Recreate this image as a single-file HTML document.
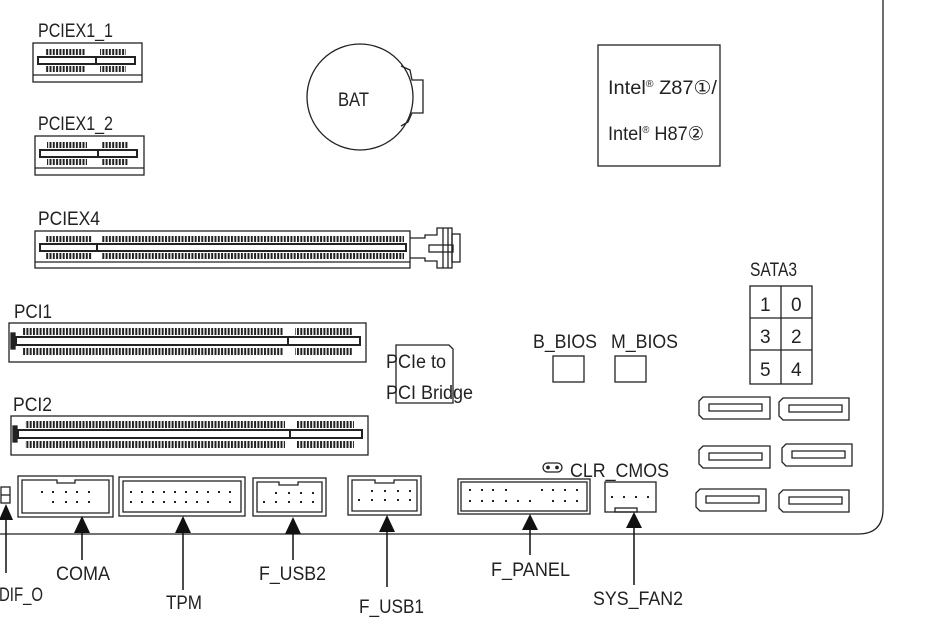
<!DOCTYPE html>
<html><head><meta charset="utf-8"><style>
html,body{margin:0;padding:0;background:#fff;}
svg{display:block;font-family:"Liberation Sans",sans-serif;}
text{fill:#222;font-size:19px;}
</style></head><body>
<svg width="931" height="628" viewBox="0 0 931 628" xmlns="http://www.w3.org/2000/svg">
<defs>
<pattern id="t" x="0" y="0" width="3.3" height="20" patternUnits="userSpaceOnUse"><rect x="0" y="0" width="2" height="20" fill="#222"/></pattern>
</defs>
<g fill="none" stroke="#222" stroke-width="1.3">
<path d="M0 534 H858 Q883 534 883 509 V0"/>
<rect x="33" y="43" width="109" height="39" fill="#fff"/>
<line x1="33" y1="75" x2="142" y2="75"/>
<rect x="38" y="57" width="97" height="7" stroke-width="2"/>
<line x1="96" y1="57" x2="96" y2="64" stroke-width="2"/>
<rect x="35" y="136" width="109" height="39"/>
<line x1="35" y1="168" x2="144" y2="168"/>
<rect x="40" y="150" width="97" height="7" stroke-width="2"/>
<line x1="98" y1="150" x2="98" y2="157" stroke-width="2"/>
<rect x="35" y="231" width="375" height="37"/>
<line x1="35" y1="262" x2="410" y2="262"/>
<rect x="40" y="244" width="366" height="7" stroke-width="2"/>
<line x1="97" y1="244" x2="97" y2="251" stroke-width="2"/>
<path d="M410 238 H425 V235 H437 V228 H452 V268 H437 V261 H425 V258 H410"/>
<rect x="429" y="245" width="24" height="7"/>
<line x1="443" y1="228" x2="443" y2="268"/><line x1="448" y1="228" x2="448" y2="268"/>
<rect x="452" y="234" width="8" height="28"/>
<circle cx="360" cy="97" r="53"/>
<path d="M401 66 L410 70 L412 80 H423 V113 H412 L408 122 L401 126"/>
<rect x="598" y="45" width="122" height="121"/>
<rect x="9" y="323" width="357" height="39"/>
<rect x="16" y="337" width="344" height="8" stroke-width="2"/>
<line x1="288" y1="337" x2="288" y2="345" stroke-width="2"/>
<rect x="11" y="333" width="4" height="16" fill="#222"/>
<rect x="11" y="416" width="357" height="39"/>
<rect x="18" y="430" width="344" height="8" stroke-width="2"/>
<line x1="290" y1="430" x2="290" y2="438" stroke-width="2"/>
<rect x="13" y="426" width="4" height="16" fill="#222"/>
<path d="M396 345 H449 L453 349 V403 H396Z"/>
<rect x="553" y="356" width="31" height="26"/>
<rect x="615" y="356" width="31" height="26"/>
<rect x="750" y="286" width="62" height="98"/>
<line x1="781" y1="286" x2="781" y2="384"/>
<line x1="750" y1="318" x2="812" y2="318"/>
<line x1="750" y1="350" x2="812" y2="350"/>
<rect x="18" y="476" width="95" height="41"/><path d="M22 480 H57 V483 H75 V480 H109 V513 H22Z"/>
<rect x="119" y="477" width="126" height="39"/><rect x="123" y="481" width="118" height="31"/>
<rect x="253" y="478" width="73" height="38"/><path d="M257 482 H279 V485 H298 V482 H322 V512 H257Z"/>
<rect x="348" y="476" width="73" height="39"/><path d="M352 480 H375 V483 H394 V480 H417 V511 H352Z"/>
<rect x="458" y="479" width="132" height="35"/><rect x="461" y="482" width="126" height="29"/>
<rect x="605" y="482" width="51" height="30"/><rect x="615" y="508" width="22" height="4"/>
<rect x="1" y="487" width="9" height="16"/><line x1="1" y1="495" x2="10" y2="495"/>
<rect x="543" y="463" width="19" height="9" rx="4.5"/>
<circle cx="548" cy="467.5" r="1.2" fill="#222"/><circle cx="557" cy="467.5" r="1.2" fill="#222"/>
</g>
<g fill="url(#t)">
<rect x="45" y="49" width="40" height="6"/><rect x="100" y="49" width="26" height="6"/>
<rect x="45" y="66" width="40" height="6"/><rect x="100" y="66" width="26" height="6"/>
<rect x="47" y="142" width="40" height="6"/><rect x="102" y="142" width="26" height="6"/>
<rect x="47" y="159" width="40" height="6"/><rect x="102" y="159" width="26" height="6"/>
<rect x="46" y="236" width="46" height="6"/><rect x="102" y="236" width="302" height="6"/>
<rect x="46" y="253" width="46" height="6"/><rect x="102" y="253" width="302" height="6"/>
<rect x="23" y="328" width="260" height="7"/><rect x="295" y="328" width="57" height="7"/>
<rect x="23" y="348" width="260" height="7"/><rect x="295" y="348" width="57" height="7"/>
<rect x="25" y="421" width="260" height="7"/><rect x="297" y="421" width="57" height="7"/>
<rect x="25" y="441" width="260" height="7"/><rect x="297" y="441" width="57" height="7"/>
</g>
<g fill="none" stroke="#222" stroke-width="1.3">
<path d="M703 397 H770 V419 H703 L699 415 V401Z"/><path d="M709 404 H762 V411 H709Z"/>
<path d="M783 398 H849 V420 H783 L779 416 V402Z"/><path d="M789 405 H842 V412 H789Z"/>
<path d="M703 446 H770 V468 H703 L699 464 V450Z"/><path d="M709 453 H762 V460 H709Z"/>
<path d="M786 444 H852 V466 H786 L782 462 V448Z"/><path d="M792 451 H845 V458 H792Z"/>
<path d="M700 489 H766 V511 H700 L696 507 V493Z"/><path d="M706 496 H759 V503 H706Z"/>
<path d="M783 490 H849 V512 H783 L779 508 V494Z"/><path d="M789 497 H842 V504 H789Z"/>
</g>
<g fill="#222">
<rect x="41" y="491" width="2" height="2"/><rect x="52" y="491" width="2" height="2"/><rect x="65" y="491" width="2" height="2"/><rect x="76" y="491" width="2" height="2"/><rect x="88" y="491" width="2" height="2"/>
<rect x="52" y="501" width="2" height="2"/><rect x="65" y="501" width="2" height="2"/><rect x="76" y="501" width="2" height="2"/><rect x="88" y="501" width="2" height="2"/>
<rect x="130" y="491" width="2" height="2"/><rect x="141" y="491" width="2" height="2"/><rect x="152" y="491" width="2" height="2"/><rect x="163" y="491" width="2" height="2"/><rect x="174" y="491" width="2" height="2"/><rect x="185" y="491" width="2" height="2"/><rect x="196" y="491" width="2" height="2"/><rect x="207" y="491" width="2" height="2"/><rect x="218" y="491" width="2" height="2"/><rect x="229" y="491" width="2" height="2"/>
<rect x="130" y="501" width="2" height="2"/><rect x="141" y="501" width="2" height="2"/><rect x="152" y="501" width="2" height="2"/><rect x="163" y="501" width="2" height="2"/><rect x="174" y="501" width="2" height="2"/><rect x="185" y="501" width="2" height="2"/><rect x="196" y="501" width="2" height="2"/><rect x="207" y="501" width="2" height="2"/><rect x="229" y="501" width="2" height="2"/>
<rect x="275" y="492" width="2" height="2"/><rect x="288" y="492" width="2" height="2"/><rect x="300" y="492" width="2" height="2"/><rect x="312" y="492" width="2" height="2"/>
<rect x="263" y="501" width="2" height="2"/><rect x="275" y="501" width="2" height="2"/><rect x="288" y="501" width="2" height="2"/><rect x="300" y="501" width="2" height="2"/><rect x="312" y="501" width="2" height="2"/>
<rect x="371" y="490" width="2" height="2"/><rect x="384" y="490" width="2" height="2"/><rect x="397" y="490" width="2" height="2"/><rect x="409" y="490" width="2" height="2"/>
<rect x="358" y="499" width="2" height="2"/><rect x="371" y="499" width="2" height="2"/><rect x="384" y="499" width="2" height="2"/><rect x="397" y="499" width="2" height="2"/><rect x="409" y="499" width="2" height="2"/>
<rect x="469" y="489" width="2" height="2"/><rect x="481" y="489" width="2" height="2"/><rect x="492" y="489" width="2" height="2"/><rect x="505" y="489" width="2" height="2"/><rect x="541" y="489" width="2" height="2"/><rect x="552" y="489" width="2" height="2"/><rect x="564" y="489" width="2" height="2"/><rect x="576" y="489" width="2" height="2"/>
<rect x="469" y="500" width="2" height="2"/><rect x="481" y="500" width="2" height="2"/><rect x="492" y="500" width="2" height="2"/><rect x="505" y="500" width="2" height="2"/><rect x="517" y="500" width="2" height="2"/><rect x="529" y="500" width="2" height="2"/><rect x="552" y="500" width="2" height="2"/><rect x="564" y="500" width="2" height="2"/><rect x="576" y="500" width="2" height="2"/>
<rect x="611" y="496" width="2" height="2"/><rect x="623" y="496" width="2" height="2"/><rect x="635" y="496" width="2" height="2"/><rect x="647" y="496" width="2" height="2"/>
</g>
<g stroke="#111" stroke-width="1.5">
<line x1="6" y1="573" x2="6" y2="515"/>
<line x1="82" y1="560" x2="82" y2="530"/>
<line x1="183" y1="590" x2="183" y2="530"/>
<line x1="293" y1="560" x2="293" y2="530"/>
<line x1="387" y1="587" x2="387" y2="528"/>
<line x1="530" y1="555" x2="530" y2="528"/>
<line x1="634" y1="585" x2="634" y2="526"/>
</g>
<g fill="#111">
<path d="M6 504 L13 520 L-1 520Z"/>
<path d="M82 516 L90 533 L74 533Z"/>
<path d="M183 516 L191 533 L175 533Z"/>
<path d="M293 517 L301 534 L285 534Z"/>
<path d="M387 515 L395 532 L379 532Z"/>
<path d="M530 514 L538 530 L522 530Z"/>
<path d="M634 512 L642 528 L626 528Z"/>
</g>
<text x="38" y="37" textLength="75" lengthAdjust="spacingAndGlyphs">PCIEX1_1</text>
<text x="38" y="130" textLength="75" lengthAdjust="spacingAndGlyphs">PCIEX1_2</text>
<text x="38" y="225" textLength="62" lengthAdjust="spacingAndGlyphs">PCIEX4</text>
<text x="338" y="106" textLength="31" lengthAdjust="spacingAndGlyphs">BAT</text>
<text x="608" y="94" textLength="109" lengthAdjust="spacingAndGlyphs">Intel<tspan font-size="10" dy="-7">®</tspan><tspan dy="7"> Z87①/</tspan></text>
<text x="608" y="140" textLength="96" lengthAdjust="spacingAndGlyphs">Intel<tspan font-size="10" dy="-7">®</tspan><tspan dy="7"> H87②</tspan></text>
<text x="14" y="318" textLength="38" lengthAdjust="spacingAndGlyphs">PCI1</text>
<text x="13" y="411" textLength="39" lengthAdjust="spacingAndGlyphs">PCI2</text>
<text x="386" y="368" textLength="60" lengthAdjust="spacingAndGlyphs">PCIe to</text>
<text x="386" y="399" textLength="87" lengthAdjust="spacingAndGlyphs">PCI Bridge</text>
<text x="533" y="348" textLength="64" lengthAdjust="spacingAndGlyphs">B_BIOS</text>
<text x="611" y="348" textLength="67" lengthAdjust="spacingAndGlyphs">M_BIOS</text>
<text x="750" y="276" textLength="47" lengthAdjust="spacingAndGlyphs">SATA3</text>
<g style="font-size:20px">
<text x="760" y="311">1</text><text x="791" y="311">0</text>
<text x="760" y="343">3</text><text x="791" y="343">2</text>
<text x="760" y="376">5</text><text x="791" y="376">4</text>
</g>
<text x="570" y="477" textLength="99" lengthAdjust="spacingAndGlyphs">CLR_CMOS</text>
<text x="56" y="580" textLength="54" lengthAdjust="spacingAndGlyphs">COMA</text>
<text x="-1" y="601" textLength="44" lengthAdjust="spacingAndGlyphs">DIF_O</text>
<text x="166" y="609" textLength="36" lengthAdjust="spacingAndGlyphs">TPM</text>
<text x="259" y="580" textLength="67" lengthAdjust="spacingAndGlyphs">F_USB2</text>
<text x="359" y="613" textLength="65" lengthAdjust="spacingAndGlyphs">F_USB1</text>
<text x="491" y="576" textLength="79" lengthAdjust="spacingAndGlyphs">F_PANEL</text>
<text x="593" y="605" textLength="90" lengthAdjust="spacingAndGlyphs">SYS_FAN2</text>
</svg>
</body></html>
